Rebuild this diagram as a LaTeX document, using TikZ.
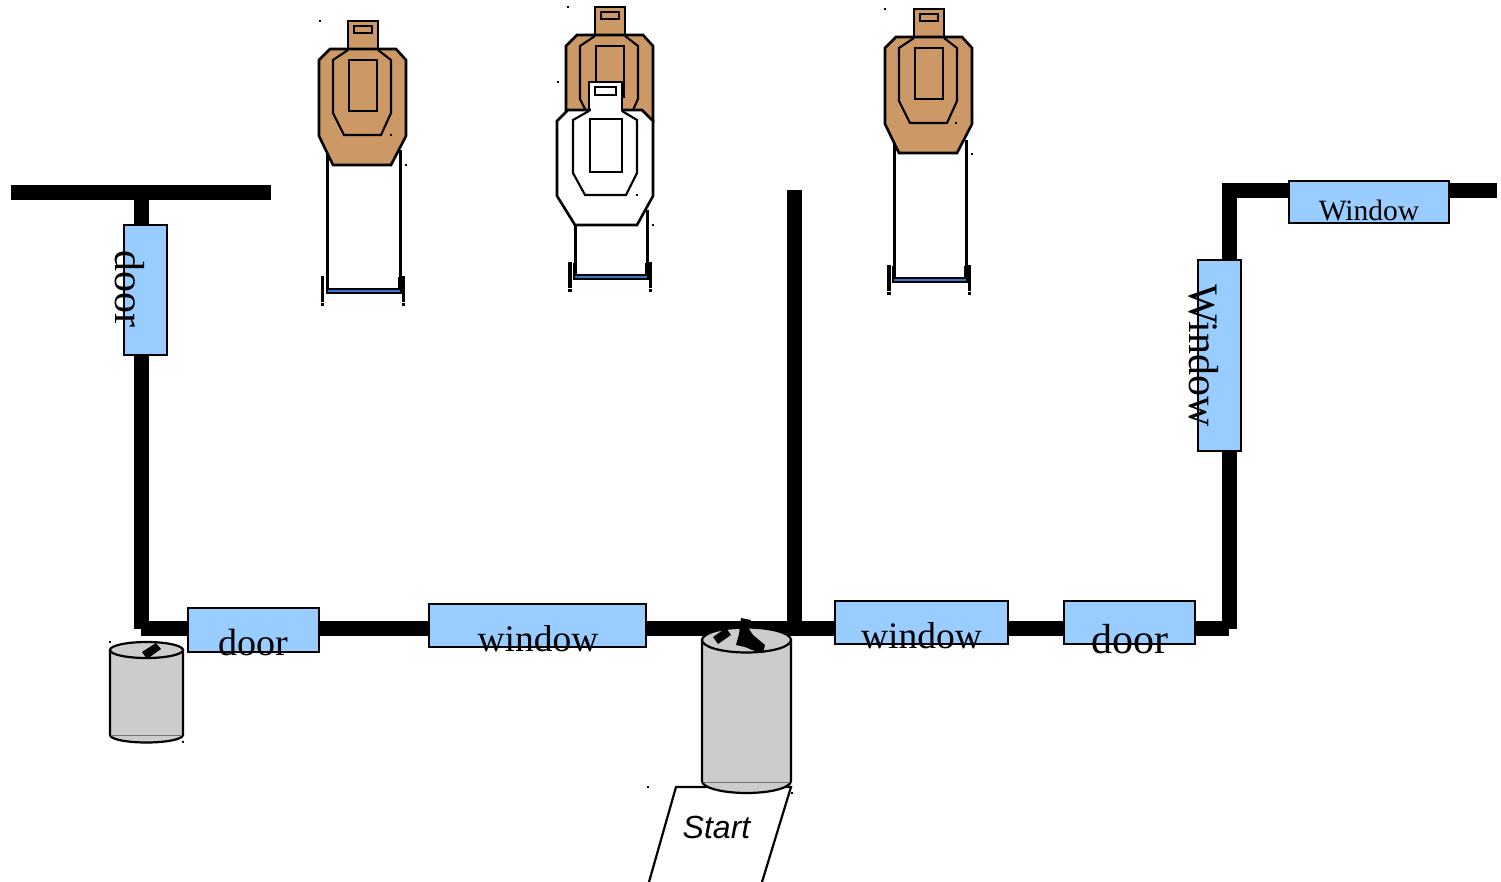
\documentclass[tikz,border=0pt]{standalone}
\usepackage{fontspec}
\setmainfont{Liberation Serif}
\setsansfont{Liberation Sans}
\definecolor{panel}{HTML}{99CCFF}
\definecolor{tan}{HTML}{CC9966}
\definecolor{drum}{HTML}{CCCCCC}
\definecolor{barblue}{HTML}{3377CC}
\tikzset{
  wall/.style={line width=15pt,draw=black},
  opening/.style={draw=black,line width=1.3pt,fill=panel},
  tgt/.style={draw=black,line width=2.6pt,line join=miter},
  post/.style={draw=black,line width=3.4pt},
  lab/.style={inner sep=0pt,anchor=base,text=black},
  labv/.style={inner sep=0pt,anchor=base,text=black,rotate=-90},
}
\newcommand{\targetshape}[2]{%
 \begin{scope}[shift={(#1,#2)}]
  \filldraw[tgt,fill=tan] (348,21) rectangle (378,49);
  \draw[tgt,line width=1.9pt] (354,26) rectangle (372,33);
  \filldraw[tgt,fill=tan] (330,49) -- (319,60) -- (319,136) -- (333,165) -- (391,165) -- (406,136) -- (406,60) -- (396,49) -- cycle;
  \draw[tgt,line width=2.1pt] (348,50) -- (333,60) -- (333,113) -- (344,135) -- (381,135) -- (391,113) -- (391,60) -- (378,50);
  \draw[tgt] (349,60) rectangle (377,111);
 \end{scope}}
\newcommand{\standshape}[4]{% left x, right x, top y, bar y
 \draw[tgt,line width=3pt] (#1,#3) -- (#1,#4);
 \draw[tgt,line width=3pt] (#2,#3) -- (#2,#4);
 \draw[black,line width=2pt,fill=barblue] (#1-1,#4) rectangle (#2+1,#4+4.5);
 \draw[post] (#1-5,#4-13) -- (#1-5,#4+13);
 \draw[post] (#2+3.5,#4-13) -- (#2+3.5,#4+13);
 \draw[post] (#1-5,#4+14.5) -- (#1-5,#4+17);
 \draw[post] (#2+3.5,#4+14.5) -- (#2+3.5,#4+17);
 \draw[post] (#1,#4-12) -- (#1,#4);
 \draw[post] (#2,#4-12) -- (#2,#4);}
\begin{document}
\begin{tikzpicture}[x=1pt,y=-1pt]
\useasboundingbox (0,0) rectangle (1501,882);
% walls
\draw[wall] (11,192.5) -- (271,192.5);
\draw[wall] (141.5,192) -- (141.5,629);
\draw[wall] (141,628) -- (1229,628);
\draw[wall] (794.5,190) -- (794.5,628);
\draw[wall] (1229.5,183) -- (1229.5,629);
\draw[wall] (1222,190.5) -- (1497,190.5);
% openings
\filldraw[opening] (124,225) rectangle (167,355);
\filldraw[opening] (188,608) rectangle (319,652);
\filldraw[opening] (429,604) rectangle (646,647);
\filldraw[opening] (835,601) rectangle (1008,644);
\filldraw[opening] (1064,601) rectangle (1195,644);
\filldraw[opening] (1198,260) rectangle (1241,451);
\filldraw[opening] (1289,181) rectangle (1449,223);
% labels
\node[labv,font=\fontsize{42}{44}\selectfont] (ldoorv) at (115,288.5) {door};
\node[lab,font=\fontsize{38}{40}\selectfont] (ldoor1) at (253,655) {door};
\node[lab,font=\fontsize{37.5}{40}\selectfont] (lwin1) at (538,651) {window};
\node[lab,font=\fontsize{37.5}{40}\selectfont] (lwin2) at (921.5,648) {window};
\node[lab,font=\fontsize{42}{44}\selectfont] (ldoor2) at (1130,653) {door};
\node[labv,font=\fontsize{42}{44}\selectfont] (lwinv) at (1189,355.5) {Window};
\node[lab,font=\fontsize{29.5}{32}\selectfont] (lwin3) at (1369,220.5) {Window};
% targets and stands
\standshape{327.5}{400}{150}{289}
\targetshape{0}{0}
\targetshape{247}{-14}
\standshape{575}{647}{210}{275}
\filldraw[tgt,fill=white] (589,82) rectangle (622,110);
\draw[tgt,line width=1.9pt] (595,87) rectangle (616,95);
\filldraw[tgt,fill=white] (568,110) -- (557,121) -- (557,196) -- (575,225) -- (637,225) -- (653,196) -- (653,121) -- (642,110) -- cycle;
\fill[white] (590.5,108) rectangle (620.5,112);
\draw[tgt,line width=2.1pt] (589,111) -- (573,120) -- (573,173) -- (585,195) -- (626,195) -- (637,173) -- (637,120) -- (622,111);
\draw[tgt,line width=2.1pt] (590,119) rectangle (622,172);
\standshape{894}{966}{140}{278}
\targetshape{566}{-12}
% start mat
\draw[black,line width=2.2pt] (649,882) -- (676,787) -- (791,787) -- (762,882);
\node[inner sep=0pt,anchor=base,font=\sffamily\itshape\fontsize{32}{34}\selectfont] (lstart) at (716.5,838) {Start};
% big drum
\filldraw[draw=black,line width=2.2pt,fill=drum] (702,640) -- (702,781) arc[start angle=180,end angle=0,x radius=44.5,y radius=12] -- (791,640) -- cycle;
\draw[black!55,line width=.8pt] (703,782) -- (790,782);
\filldraw[draw=black,line width=2.2pt,fill=drum] (746.5,640) ellipse[x radius=44.5,y radius=12.5];
\fill[black] (713,637) -- (726,628) -- (731,635) -- (718,644) -- cycle;
\fill[black] (741,618) -- (751,620) -- (749,629) -- (753,635) -- (765,645) -- (763,653) -- (752,650) -- (745,647) -- (736,645) -- (739,634) -- cycle;
% small drum
\filldraw[draw=black,line width=2.2pt,fill=drum] (110,650) -- (110,735) arc[start angle=180,end angle=0,x radius=36.5,y radius=7.5] -- (183,650) -- cycle;
\draw[black!55,line width=.8pt] (111,735) -- (182,735);
\filldraw[draw=black,line width=2.2pt,fill=drum] (146.5,650) ellipse[x radius=36.5,y radius=8];
\fill[black] (142,652) -- (156,643) -- (161,649) -- (147,659) -- cycle;
% specks
\foreach \px/\py in {320/21,406/165,391/135,568/7,558/82,653/225,637/195,885/9,972/154,956/123,110/642,183/742,648/787,792/793}
  \fill[black] (\px-.6,\py-.6) rectangle (\px+.6,\py+.6);
\end{tikzpicture}
\end{document}
